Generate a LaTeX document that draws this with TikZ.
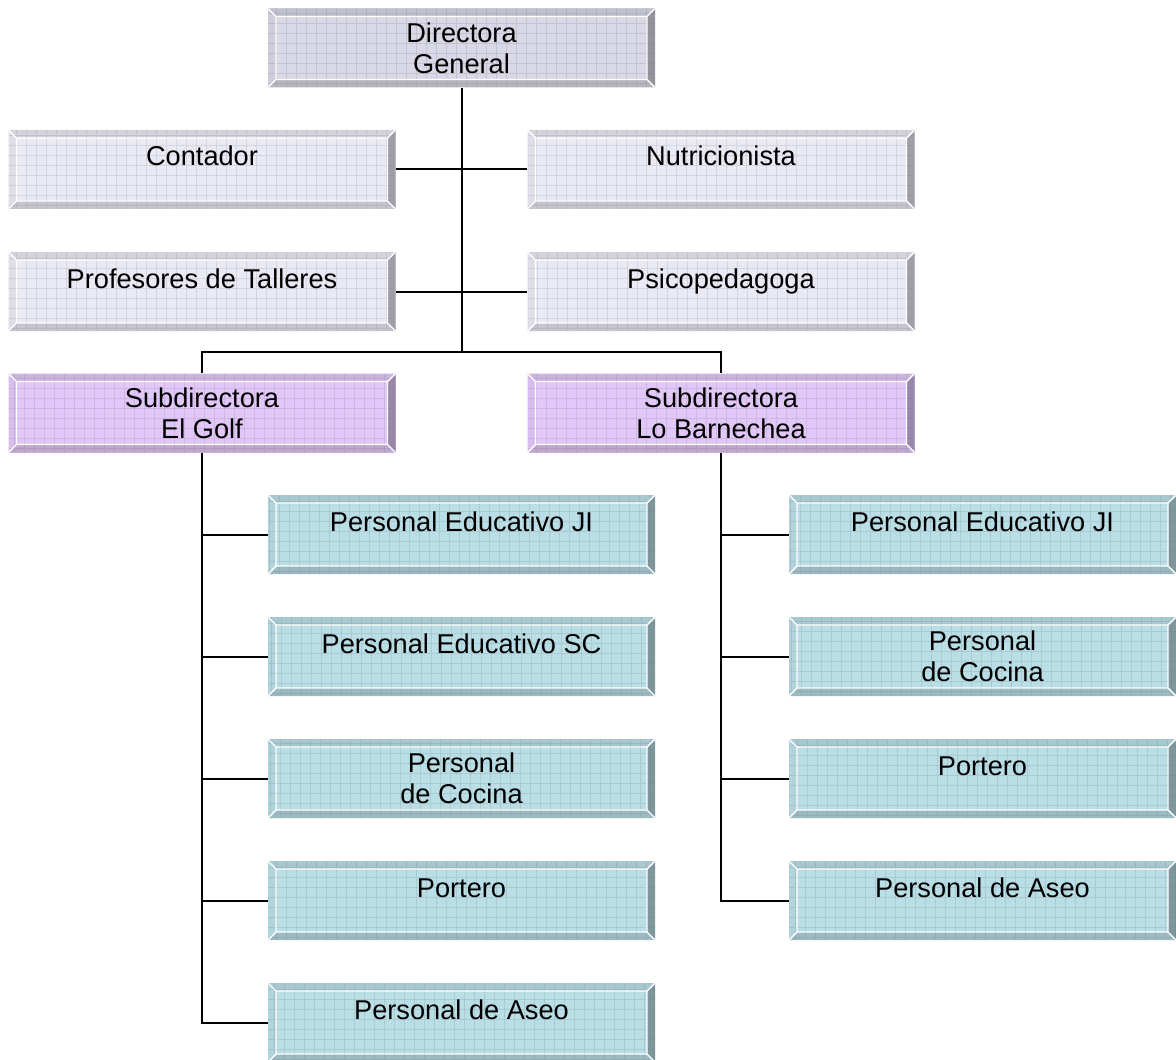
\documentclass[tikz,border=0pt]{standalone}
\usepackage{fontspec}
\setmainfont{Liberation Sans}
\usetikzlibrary{calc}
\definecolor{boss}{RGB}{216,216,230}
\definecolor{staff}{RGB}{234,234,245}
\definecolor{subdir}{RGB}{226,200,248}
\definecolor{crew}{RGB}{186,222,230}
\tikzset{
  orgbox/.style={rectangle, minimum width=193.5pt, minimum height=39.5pt, inner sep=0pt,
    align=center, font=\fontsize{13.6}{15.5}\selectfont, fill=#1,
    path picture={
      \path (path picture bounding box.north west) coordinate (p1)
            (path picture bounding box.north east) coordinate (p2)
            (path picture bounding box.south east) coordinate (p3)
            (path picture bounding box.south west) coordinate (p4)
            ([shift={(4pt,-4pt)}]p1) coordinate (q1)
            ([shift={(-4pt,-4pt)}]p2) coordinate (q2)
            ([shift={(-4pt,4pt)}]p3) coordinate (q3)
            ([shift={(4pt,4pt)}]p4) coordinate (q4);
      \fill[#1!90!black] (p1) -- (p2) -- (q2) -- (q1) -- cycle;
      \fill[#1!95!black] (p1) -- (q1) -- (q4) -- (p4) -- cycle;
      \fill[#1!84!black] (p4) -- (q4) -- (q3) -- (p3) -- cycle;
      \fill[#1!68!black] (p2) -- (p3) -- (q3) -- (q2) -- cycle;
      \draw[#1!55!black, opacity=0.2, line width=0.5pt, step=5pt] (p4) grid (p2);
      \draw[white, line width=0.7pt] (q1) rectangle (q3) (p1) -- (q1) (p2) -- (q2) (p3) -- (q3) (p4) -- (q4);
    }},
  oneline/.style={text height=9.6pt, text depth=13.1pt},
  link/.style={line width=1pt}
}
\begin{document}
\begin{tikzpicture}[x=0.5pt, y=-0.5pt]
\useasboundingbox (0,0) rectangle (1176,1059);
\node[orgbox=boss] (dir) at (461.5,48) {Directora\\General};
\node[orgbox=staff, oneline] (cont) at (202,169.5) {Contador};
\node[orgbox=staff, oneline] (nutr) at (721,169.5) {Nutricionista};
\node[orgbox=staff, oneline] (prof) at (202,291.5) {Profesores de Talleres};
\node[orgbox=staff, oneline] (psic) at (721,291.5) {Psicopedagoga};
\node[orgbox=subdir] (sub1) at (202,413) {Subdirectora\\El Golf};
\node[orgbox=subdir] (sub2) at (721,413) {Subdirectora\\Lo Barnechea};
\node[orgbox=crew, oneline] (g1) at (461.5,534.5) {Personal Educativo JI};
\node[orgbox=crew, oneline] (g2) at (461.5,656.5) {Personal Educativo SC};
\node[orgbox=crew] (g3) at (461.5,778.5) {Personal\\de Cocina};
\node[orgbox=crew, oneline] (g4) at (461.5,900.5) {Portero};
\node[orgbox=crew, oneline] (g5) at (461.5,1022.5) {Personal de Aseo};
\node[orgbox=crew, oneline] (b1) at (982.5,534.5) {Personal Educativo JI};
\node[orgbox=crew] (b2) at (982.5,656.5) {Personal\\de Cocina};
\node[orgbox=crew, oneline] (b3) at (982.5,778.5) {Portero};
\node[orgbox=crew, oneline] (b4) at (982.5,900.5) {Personal de Aseo};
\coordinate (hub) at (461.5,352);
\draw[link] (dir.south) -- (hub);
\draw[link] (cont.east) -- (nutr.west);
\draw[link] (prof.east) -- (psic.west);
\draw[link] (sub1.north) |- (hub) -| (sub2.north);
\draw[link] (sub1.south) |- (g5.west);
\foreach \k in {1,...,4} \draw[link] (sub1.south |- g\k.west) -- (g\k.west);
\draw[link] (sub2.south) |- (b4.west);
\foreach \k in {1,2,3} \draw[link] (sub2.south |- b\k.west) -- (b\k.west);
\end{tikzpicture}
\end{document}
